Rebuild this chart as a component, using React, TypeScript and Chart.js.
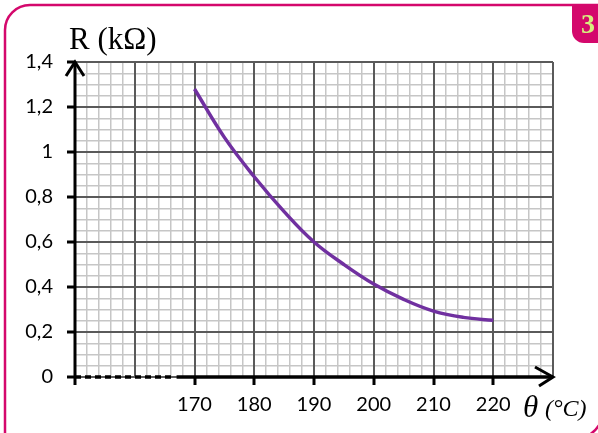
import React, { useEffect, useRef } from "react";
import { Chart, registerables } from "chart.js";

Chart.register(...registerables);

const thetaValues = [170, 175, 180, 185, 190, 195, 200, 205, 210, 215, 220];
const resistanceValues = [1.28, 1.065, 0.89, 0.735, 0.6, 0.5, 0.413, 0.345, 0.293, 0.265, 0.252];
const xLabelTicks = [170, 180, 190, 200, 210, 220];
const yLabelTicks = [0, 0.2, 0.4, 0.6, 0.8, 1, 1.2, 1.4];

const PINK = "#d4086c";
const PURPLE = "#7030a0";
const MINOR = "#c6c6c6";
const MAJOR = "#5a5a5a";
const TICK_FONT = 'Lato, "Open Sans", sans-serif';
const SERIF = '"Liberation Serif", "DejaVu Serif", serif';

const isMajorX = (v: number) => Math.round(v) % 10 === 0;
const isMajorY = (v: number) => Math.round(v * 100) % 20 === 0;
const isLabelX = (v: number) => xLabelTicks.includes(Math.round(v));
const isLabelY = (v: number) => yLabelTicks.some((t) => Math.abs(t - v) < 1e-6);
const fmtY = (v: number) => String(Math.round(v * 10) / 10).replace(".", ",");

const decorPlugin = {
  id: "decor",
  beforeDraw(chart: any) {
    const ctx = chart.ctx;
    ctx.save();
    ctx.fillStyle = "#fff";
    ctx.fillRect(0, 0, chart.width, chart.height);
    ctx.strokeStyle = PINK;
    ctx.lineWidth = 2.5;
    ctx.beginPath();
    ctx.moveTo(5, 445);
    ctx.lineTo(5, 30);
    ctx.arcTo(5, 5, 30, 5, 25);
    ctx.lineTo(598, 5);
    ctx.stroke();
    ctx.beginPath();
    ctx.arc(572, 408, 32, 0.15 * Math.PI, 0.5 * Math.PI);
    ctx.stroke();
    ctx.fillStyle = PINK;
    ctx.beginPath();
    ctx.moveTo(572, 4);
    ctx.lineTo(598, 4);
    ctx.lineTo(598, 43);
    ctx.lineTo(584, 43);
    ctx.arcTo(572, 43, 572, 31, 12);
    ctx.closePath();
    ctx.fill();
    ctx.fillStyle = "#d6f07e";
    ctx.font = `bold 28px ${SERIF}`;
    ctx.textAlign = "center";
    ctx.textBaseline = "alphabetic";
    ctx.fillText("3", 588, 33);
    ctx.restore();
  },
  beforeDatasetsDraw(chart: any) {
    const ctx = chart.ctx;
    const xs = chart.scales.x;
    const ys = chart.scales.y;
    const area = chart.chartArea;
    ctx.save();
    ctx.strokeStyle = MAJOR;
    ctx.lineWidth = 2;
    xs.ticks.forEach((t: any) => {
      if (!isMajorX(t.value)) return;
      const px = Math.round(xs.getPixelForValue(t.value));
      ctx.beginPath();
      ctx.moveTo(px, area.top);
      ctx.lineTo(px, area.bottom);
      ctx.stroke();
    });
    ys.ticks.forEach((t: any) => {
      if (!isMajorY(t.value)) return;
      const py = Math.round(ys.getPixelForValue(t.value));
      ctx.beginPath();
      ctx.moveTo(area.left, py);
      ctx.lineTo(area.right, py);
      ctx.stroke();
    });
    ctx.restore();
  },
  afterDraw(chart: any) {
    const ctx = chart.ctx;
    const xs = chart.scales.x;
    const ys = chart.scales.y;
    const x0 = Math.round(xs.getPixelForValue(150));
    const xEnd = xs.getPixelForValue(230);
    const y0 = Math.round(ys.getPixelForValue(0));
    const yTop = ys.getPixelForValue(1.4);
    ctx.save();
    ctx.strokeStyle = "#000";
    ctx.lineWidth = 3;
    ctx.lineCap = "butt";
    ctx.beginPath();
    ctx.moveTo(x0, y0 + 8);
    ctx.lineTo(x0, yTop);
    ctx.stroke();
    ctx.beginPath();
    ctx.moveTo(x0 - 9, yTop + 14);
    ctx.lineTo(x0, yTop);
    ctx.lineTo(x0 + 9, yTop + 14);
    ctx.stroke();
    const xDashEnd = xs.getPixelForValue(166.5);
    ctx.lineWidth = 3.5;
    ctx.setLineDash([6, 4]);
    ctx.beginPath();
    ctx.moveTo(x0, y0);
    ctx.lineTo(xDashEnd, y0);
    ctx.stroke();
    ctx.setLineDash([]);
    ctx.beginPath();
    ctx.moveTo(xs.getPixelForValue(167), y0);
    ctx.lineTo(xEnd, y0);
    ctx.stroke();
    ctx.lineWidth = 3;
    ctx.beginPath();
    ctx.moveTo(xEnd - 18, y0 - 10);
    ctx.lineTo(xEnd, y0);
    ctx.lineTo(xEnd - 14, y0 + 9);
    ctx.stroke();
    ctx.fillStyle = "#000";
    ctx.textBaseline = "alphabetic";
    ctx.textAlign = "left";
    ctx.font = `31px ${SERIF}`;
    ctx.fillText("R (kΩ)", 69, 49);
    ctx.font = `italic 31px ${SERIF}`;
    ctx.fillText("θ", 523, 417);
    ctx.font = `italic 24px ${SERIF}`;
    ctx.fillText("(°C)", 545, 416);
    ctx.restore();
  },
};

export default function App() {
  const ref = useRef<HTMLCanvasElement | null>(null);
  useEffect(() => {
    if (!ref.current) return;
    const chart = new Chart(ref.current, {
      type: "line",
      data: {
        datasets: [
          {
            data: thetaValues.map((x, i) => ({ x, y: resistanceValues[i] })),
            borderColor: PURPLE,
            borderWidth: 3.5,
            pointRadius: 0,
            tension: 0.4,
            fill: false,
          },
        ],
      },
      options: {
        animation: false,
        responsive: false,
        devicePixelRatio: 1,
        layout: { padding: { left: 0, top: 62, right: 45, bottom: 0 } },
        plugins: { legend: { display: false }, tooltip: { enabled: false } },
        scales: {
          x: {
            type: "linear",
            min: 150,
            max: 230,
            border: { display: false },
            afterFit: (s: any) => {
              s.height = 56;
            },
            ticks: {
              stepSize: 2,
              autoSkip: false,
              maxRotation: 0,
              padding: 8,
              color: "#000",
              font: { family: TICK_FONT, size: 20 },
              callback: (v: any) => (isLabelX(Number(v)) ? String(Math.round(Number(v))) : ""),
            },
            grid: {
              color: (c: any) => (isMajorX(c.tick.value) ? MAJOR : MINOR),
              lineWidth: (c: any) => (isMajorX(c.tick.value) ? 2 : 1.5),
              tickColor: (c: any) => (isLabelX(c.tick.value) ? "#000" : "rgba(0,0,0,0)"),
              tickWidth: 3,
              tickLength: 8,
            },
          },
          y: {
            type: "linear",
            min: 0,
            max: 1.4,
            border: { display: false },
            afterFit: (s: any) => {
              s.width = 75;
            },
            ticks: {
              stepSize: 0.05,
              autoSkip: false,
              padding: 14,
              color: "#000",
              font: { family: TICK_FONT, size: 20 },
              callback: (v: any) => (isLabelY(Number(v)) ? fmtY(Number(v)) : ""),
            },
            grid: {
              color: (c: any) => (isMajorY(c.tick.value) ? MAJOR : MINOR),
              lineWidth: (c: any) => (isMajorY(c.tick.value) ? 2 : 1.5),
              tickColor: (c: any) => (isLabelY(c.tick.value) ? "#000" : "rgba(0,0,0,0)"),
              tickWidth: 3,
              tickLength: 8,
            },
          },
        },
      },
      plugins: [decorPlugin],
    } as any);
    return () => chart.destroy();
  }, []);
  return (
    <div style={{ position: "absolute", left: 0, top: 0, width: 598, height: 433 }}>
      <canvas ref={ref} width={598} height={433} style={{ display: "block" }} />
    </div>
  );
}
